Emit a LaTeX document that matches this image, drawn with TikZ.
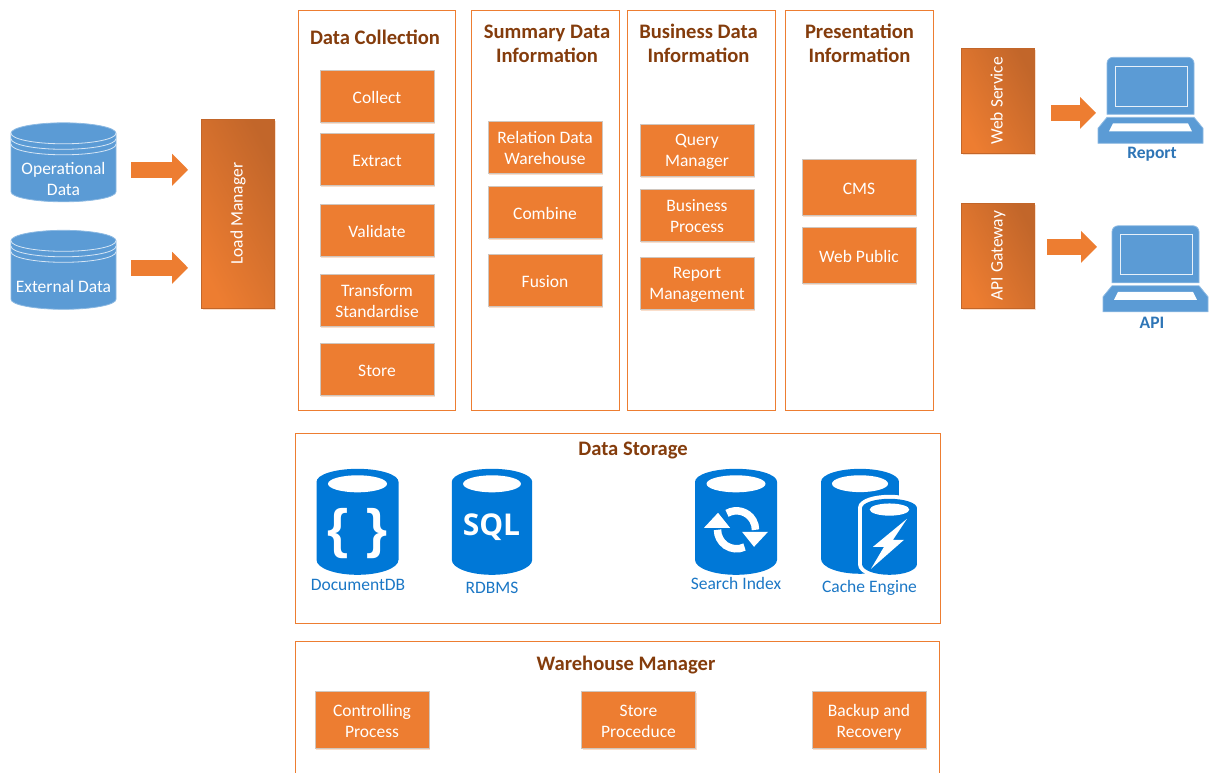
\documentclass[tikz,border=0pt]{standalone}
\usepackage{fontspec}
\setmainfont{Carlito}
\usetikzlibrary{arrows.meta,shadows}
\definecolor{boxorange}{HTML}{ED7D31}
\definecolor{darkorange}{HTML}{C2662A}
\definecolor{boxedge}{HTML}{CFC6BE}
\definecolor{headbrown}{HTML}{843C0C}
\definecolor{stackblue}{HTML}{5B9BD5}
\definecolor{azureblue}{HTML}{0078D7}
\definecolor{dbtext}{HTML}{1B77C5}
\definecolor{labelblue}{HTML}{2E75B6}
\newcommand{\uptext}[1]{\rotatebox{90}{\rule[-3.3pt]{0pt}{16pt}#1}}
\newcommand{\lowtext}[3]{\raisebox{-#1}[0pt][0pt]{\begin{tabular}{@{}c@{}}#2\\#3\end{tabular}}}
\tikzset{
    frame/.style={draw=boxorange,line width=1pt,inner sep=0pt},
    head/.style={font=\fontsize{20.6}{24}\selectfont\bfseries,text=headbrown,align=center,inner sep=0pt},
    evenline/.style={execute at begin node=\rule{0pt}{17.5pt},execute at end node=\rule[-4pt]{0pt}{4pt}},
    itembox/.style={fill=boxorange,draw=boxedge,line width=1pt,minimum width=114pt,minimum height=52pt,inner sep=0pt,
        text=white,align=center,font=\fontsize{17.5}{21}\selectfont,
        drop shadow={shadow xshift=1pt,shadow yshift=-1.5pt,fill=boxorange,opacity=.25}},
    loadbox/.style={left color=boxorange,right color=darkorange,shading angle=118,draw=darkorange,line width=.8pt,
        minimum width=73pt,inner sep=0pt,text=white,font=\fontsize{17.5}{21}\selectfont,
        drop shadow={shadow xshift=1pt,shadow yshift=-1.5pt,fill=boxorange,opacity=.25}},
    whitelabel/.style={text=white,align=center,inner sep=0pt,font=\fontsize{17.5}{21}\selectfont},
    dblabel/.style={text=dbtext,inner sep=0pt,font=\fontsize{17.5}{21}\selectfont,evenline},
    pclabel/.style={text=labelblue,inner sep=0pt,font=\fontsize{17.5}{20}\selectfont\bfseries},
    blockarrow/.style={draw=boxorange,line width=16pt,-{Triangle[length=16pt,width=31pt,fill=boxorange]}},
    stackdb/.pic={
        \path[fill=stackblue,draw=stackblue!70!white,line width=.8pt] (-52.5,29) arc[start angle=180,end angle=0,x radius=52.5,y radius=10.5]
            -- (52.5,-29.5) arc[start angle=0,end angle=-180,x radius=52.5,y radius=10] -- cycle;
        \draw[white!75!stackblue,line width=.8pt] (-52.5,29) arc[start angle=180,end angle=360,x radius=52.5,y radius=10.5];
        \draw[white!75!stackblue,line width=.8pt] (-52.5,23.5) arc[start angle=180,end angle=360,x radius=52.5,y radius=10.5];
        \draw[white!75!stackblue,line width=.8pt] (-52.5,18) arc[start angle=180,end angle=360,x radius=52.5,y radius=10.5];
        \coordinate (-east) at (52.5,0);
    },
    azurecan/.pic={
        \path[fill=azureblue,pic actions] (-41,40) arc[start angle=180,end angle=0,x radius=41,y radius=13]
            -- (41,-38) arc[start angle=0,end angle=-180,x radius=41,y radius=15] -- cycle;
        \fill[white] (0,38) ellipse[x radius=29.5,y radius=8.5];
    },
    laptop/.pic={
        \path[fill=stackblue,draw=stackblue!70!white,line width=.8pt] (-43.5,-14) -- (-43.5,37) arc[start angle=180,end angle=90,radius=6]
            -- (37.5,43) arc[start angle=90,end angle=0,radius=6] -- (43.5,-14) -- cycle;
        \draw[white!85!stackblue,line width=1pt] (-35.5,-6) rectangle (36.5,34);
        \path[fill=stackblue,draw=stackblue!70!white,line width=.8pt] (-43.5,-17) -- (43.5,-17) -- (52.5,-28) -- (52.5,-43) -- (-52.5,-43) -- (-52.5,-28) -- cycle;
        \fill[white] (-37.5,-23) -- (37.5,-23) -- (41.5,-31) -- (-41.5,-31) -- cycle;
        \coordinate (-west) at (-52.5,0);
    }
}
\begin{document}
\begin{tikzpicture}[x=1pt,y=1pt]
    \useasboundingbox (0,-0.2) rectangle (1212,-772.2);

    \pic (opdata) at (63.5,-162.5) {stackdb};
    \pic (extdata) at (63.5,-270) {stackdb};
    \node[whitelabel] (oplabel) at (63.5,-179.5) {Operational\\Data};
    \node[whitelabel,evenline] (extlabel) at (63.5,-286) {External Data};
    \node[loadbox,minimum height=189pt] (load) at (238,-214) {\uptext{Load Manager}};
    \draw[blockarrow,shorten <=15pt,shorten >=13pt] (opdata-east |- 0,-170) -- (load.west |- 0,-170);
    \draw[blockarrow,shorten <=15pt,shorten >=13pt] (extdata-east |- 0,-268) -- (load.west |- 0,-268);

    \node[frame,minimum width=157pt,minimum height=400pt] (collectframe) at (376.5,-211) {};
    \node[frame,minimum width=148pt,minimum height=400pt] (summaryframe) at (545,-211) {};
    \node[frame,minimum width=148pt,minimum height=400pt] (businessframe) at (701,-211) {};
    \node[frame,minimum width=148pt,minimum height=400pt] (presentframe) at (859,-211) {};
    \node[head] (collecthead) at (375,-38) {Data Collection};
    \node[head] (summaryhead) at (547,-44) {Summary Data\\Information};
    \node[head] (businesshead) at (698.5,-43.5) {Business Data\\Information};
    \node[head] (presenthead) at (859.5,-43.5) {Presentation\\Information};

    \node[itembox,evenline] (collect) at (377,-97) {Collect};
    \node[itembox,evenline] (extract) at (377,-160) {Extract};
    \node[itembox,evenline] (validate) at (377,-230.5) {Validate};
    \node[itembox] (transform) at (377,-301) {Transform\\Standardise};
    \node[itembox,evenline] (store) at (377,-370) {Store};

    \node[itembox] (relation) at (545,-148) {Relation Data\\Warehouse};
    \node[itembox,evenline] (combine) at (545,-213) {Combine};
    \node[itembox,evenline] (fusion) at (545,-281) {Fusion};

    \node[itembox] (query) at (697,-150.5) {\lowtext{5.7pt}{Query}{Manager}};
    \node[itembox] (process) at (697,-216) {Business\\Process};
    \node[itembox] (reportmgmt) at (697,-284) {\lowtext{5.2pt}{Report}{Management}};

    \node[itembox,evenline,minimum height=56pt] (cms) at (859,-188) {CMS};
    \node[itembox,evenline,minimum height=56pt] (webpublic) at (859,-256) {Web Public};

    \node[loadbox,minimum height=105pt] (webservice) at (998,-101) {\uptext{Web Service}};
    \node[loadbox,minimum height=105pt] (apigateway) at (998,-256) {\uptext{API Gateway}};
    \pic (reportpc) at (1150.5,-100.5) {laptop};
    \pic (apipc) at (1155.5,-269) {laptop};
    \node[pclabel] (reportlabel) at (1152,-154) {Report};
    \node[pclabel] (apilabel) at (1152,-323.5) {API};
    \draw[blockarrow,shorten <=16pt,shorten >=2pt] (webservice.east |- 0,-113) -- (reportpc-west |- 0,-113);
    \draw[blockarrow,shorten <=12pt,shorten >=6pt] (apigateway.east |- 0,-247) -- (apipc-west |- 0,-247);

    \node[frame,minimum width=645pt,minimum height=190pt] (storageframe) at (617.5,-529) {};
    \node[head] (storagehead) at (633,-451) {Data Storage};

    \pic at (357.5,-522) {azurecan};
    \node[text=white,inner sep=0pt,font=\fontspec{Liberation Sans}\bfseries\fontsize{54}{54}\selectfont] (docbrace) at (358,-534) {\{\hspace{18pt}\}};
    \node[dblabel] (doclabel) at (358,-583.5) {DocumentDB};

    \pic[xscale=.98] at (492,-522) {azurecan};
    \node[anchor=base,text=white,inner sep=0pt,font=\fontspec{Open Sans}\bfseries\fontsize{30}{30}\selectfont] (sqltext) at (491.5,-536) {SQL};
    \node[dblabel] (rdbmslabel) at (492,-586.5) {RDBMS};

    \pic at (736,-522) {azurecan};
    \draw[white,line width=7.5pt] (736.5,-530) ++(120:19) arc[start angle=120,end angle=0,radius=19];
    \draw[white,line width=7.5pt] (736.5,-530) ++(-65:19) arc[start angle=-65,end angle=-180,radius=19];
    \fill[white] (742,-532) -- (768,-532) -- (754,-547) -- cycle;
    \fill[white] (704,-528) -- (730,-528) -- (718,-513) -- cycle;
    \node[dblabel] (searchlabel) at (736,-583) {Search Index};

    \pic[xscale=.95,yscale=.99] at (860,-521.5) {azurecan};
    \pic[xscale=.67,yscale=.717,draw=white,fill=white,line width=8pt] at (889.5,-537) {azurecan};
    \pic[xscale=.67,yscale=.717] at (889.5,-537) {azurecan};
    \fill[white] (907,-519) -- (893,-540) -- (904,-540) -- (871,-569) -- (884,-547) -- (873,-547) -- cycle;
    \node[dblabel] (cachelabel) at (869.5,-586) {Cache Engine};

    \node[frame,minimum width=644pt,minimum height=134pt] (warehouseframe) at (617,-709) {};
    \node[head] (warehousehead) at (626,-665) {Warehouse Manager};
    \node[itembox,minimum height=57pt] (controlling) at (372,-720.5) {\lowtext{6.7pt}{Controlling}{Process}};
    \node[itembox,minimum height=57pt] (procedure) at (638.5,-720.5) {\lowtext{6.7pt}{Store}{Proceduce}};
    \node[itembox,minimum height=57pt] (backup) at (869,-720.5) {\lowtext{6.7pt}{Backup and}{Recovery}};
\end{tikzpicture}
\end{document}
